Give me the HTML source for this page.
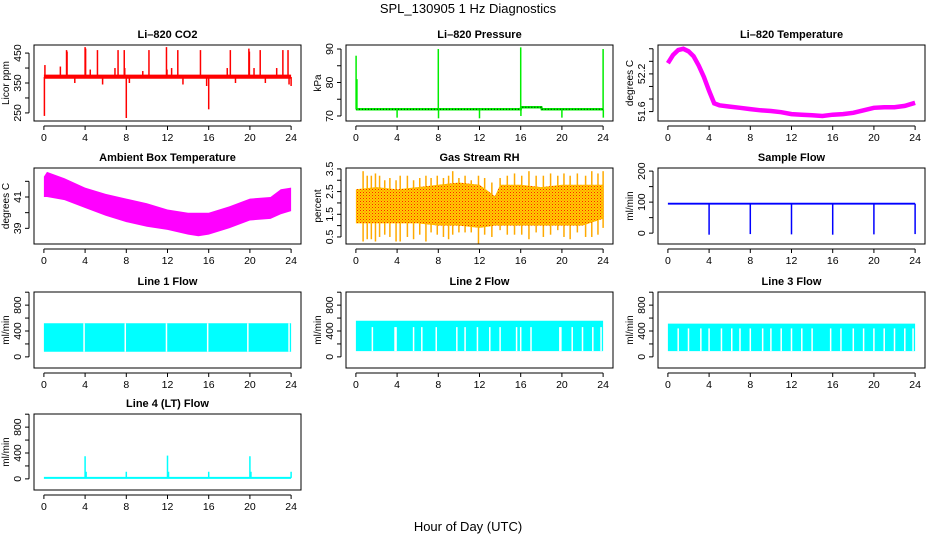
<!DOCTYPE html>
<html><head><meta charset="utf-8">
<style>
html,body{margin:0;padding:0;background:#fff;}
svg{display:block;font-family:"Liberation Sans",Arial,sans-serif;}
</style></head>
<body>
<svg id="fig" width="936" height="540" viewBox="0 0 936 540" xmlns="http://www.w3.org/2000/svg">
<defs>
<pattern id="rhdots" width="3" height="3" patternUnits="userSpaceOnUse">
<rect width="3" height="3" fill="#ffcc00"/><rect x="0" y="0" width="1" height="1" fill="#ff2000"/><rect x="1.5" y="1.5" width="1" height="1" fill="#ff6000"/>
</pattern>
</defs>
<text x="468" y="13" text-anchor="middle" font-size="13">SPL_130905  1 Hz Diagnostics</text>
<text x="468" y="531" text-anchor="middle" font-size="13">Hour of Day (UTC)</text>
</svg>
<script>
// ---- data ----
const xTicks = [0,4,8,12,16,20,24];
// CO2
const co2BaseLo = 364, co2BaseHi = 378;
const co2SpikeHours = [0.05,0.1,1.6,2.2,2.25,3.0,4.0,4.05,4.5,5.2,5.7,6.9,7.2,7.8,7.85,8.0,8.3,9.6,10.2,11.9,11.95,12.4,13.0,13.5,15.2,15.8,16.0,17.8,18.1,18.6,19.9,19.95,20.4,21.0,21.5,22.6,23.2,23.7,23.8,24.0];
const co2SpikeVals  = [240,410,405,460,455,350,470,465,395,460,345,400,460,460,400,233,350,390,460,470,395,400,460,345,460,340,262,400,460,350,465,455,400,460,350,400,460,460,345,340];
// Pressure
const presBaseHours = [0,16,16.05,18,18.05,24];
const presBaseVals  = [72,72,72.6,72.6,72,72];
const presSpikeHours = [0.02,0.1,4,8,8.02,12,16,16.02,20,24,24.02];
const presSpikeVals  = [88,81,69.5,90,69.3,69.3,90.5,70,69.5,90,69.5];
// Li-820 temperature
const tempHours = [0,0.5,1,1.5,2,2.5,3,3.5,4,4.5,5,6,7,8,9,10,11,12,13,14,15,16,17,18,19,20,21,22,23,24];
const tempVals  = [52.37,52.5,52.58,52.6,52.56,52.48,52.33,52.15,51.93,51.73,51.7,51.68,51.66,51.64,51.62,51.61,51.59,51.56,51.55,51.54,51.53,51.55,51.56,51.58,51.62,51.66,51.67,51.67,51.69,51.74];
// Ambient box temperature band
const ambHours = [0,0.3,2,4,6,8,10,12,14,15,16,18,20,22,23,24];
const ambHi    = [42.3,42.6,42.2,41.6,41.2,40.9,40.6,40.2,40.0,40.0,40.0,40.4,40.9,41.0,41.5,41.6];
const ambLo    = [41.0,41.0,40.8,40.3,39.8,39.4,39.1,38.9,38.6,38.5,38.6,39.0,39.5,39.6,39.9,40.1];
// Gas stream RH band + spikes
const rhHours = [0,2,4,6,8,10,12,13.5,14,16,18,20,22,24];
const rhHi = [2.6,2.7,2.6,2.7,2.8,2.9,2.8,2.3,2.8,2.8,2.7,2.8,2.8,2.8];
const rhLo = [1.1,1.1,1.1,1.1,1.0,1.0,0.9,1.0,1.0,1.0,1.0,1.0,1.0,1.3];
const rhSpikeHours = [0.7,1.1,1.5,1.9,2.3,2.8,3.3,3.9,4.3,5.0,5.6,6.2,6.8,7.3,7.9,8.5,9.0,9.4,10.0,10.6,11.2,11.9,12.5,13.2,14.0,14.7,15.4,16.1,16.8,17.5,18.2,18.9,19.6,20.2,20.8,21.5,22.3,22.9,23.5,24.0];
const rhSpikeHi = [3.4,3.2,3.2,3.3,3.2,3.0,3.1,3.0,3.2,3.2,3.0,3.1,3.2,3.1,3.2,3.1,3.2,3.4,3.1,3.2,3.0,3.2,3.1,2.9,3.1,3.2,3.3,3.2,3.4,3.2,3.2,3.3,3.2,3.3,3.2,3.3,3.2,3.4,3.3,3.4];
const rhSpikeLo = [0.3,0.4,0.4,0.3,0.5,0.6,0.5,0.3,0.3,0.5,0.4,0.6,0.3,0.7,0.6,0.5,0.4,0.6,0.7,0.7,0.7,0.2,0.6,0.5,0.8,0.6,0.6,0.6,0.4,0.7,0.5,0.6,0.8,0.5,0.4,0.7,0.5,0.5,0.6,0.9];
// Sample flow
const sfBase = 95;
const sfDipHours = [4,8,12,16,20,24];
const sfDipVals  = [-5,-3,-4,-5,-4,-3];
// Line flows
const l1Lo = 80, l1Hi = 520, l1Gaps = [3.9,7.9,11.9,15.9,19.8,23.8];
const l2Lo = 90, l2Hi = 560, l2Gaps = [1.6,3.8,3.9,5.6,6.4,7.8,9.8,10.6,11.8,13.0,14.0,15.6,16.0,17.0,19.8,19.9,21.0,22.0,23.0,23.8];
const l3Lo = 90, l3Hi = 515, l3Gaps = [1.0,2.0,3.2,4.0,5.2,6.2,7.0,8.0,9.2,10.0,11.0,12.0,13.0,14.0,15.8,16.8,18.0,19.0,20.0,21.0,22.0,23.0,23.8];
const l4Base = 15;
const l4SpikeHours = [4,4.1,8,12,12.1,16,20,20.1,24];
const l4SpikeVals  = [350,110,110,360,110,110,350,110,110];

// ---- layout helpers ----
const NS = "http://www.w3.org/2000/svg";
const fig = document.getElementById('fig');
const colL = [34,346,658], rowT = [45,168,292,414], PW = 267, PH = 76;
function mk(tag, attrs, parent){
  const e = document.createElementNS(NS, tag);
  for (const k in attrs) e.setAttribute(k, attrs[k]);
  (parent||fig).appendChild(e); return e;
}
function panel(col,row,name,title,ylab,ylim,yTicks,yLabels){
  const L = colL[col], T = rowT[row];
  const g = mk('g',{});
  
  
  const xs = h => L + (h + 0.96) / 25.92 * PW;
  const ys = v => T + PH - (v - ylim[0]) / (ylim[1] - ylim[0]) * PH;
  const plot = mk('g',{},g);
  const t = mk('text',{x:L+PW/2,y:T-7,'text-anchor':'middle','font-size':11,'font-weight':'bold'},g);
  t.textContent = title;
  
  
  const box = mk('rect',{x:L,y:T,width:PW,height:PH,fill:'none',stroke:'#000','stroke-width':1},g);
  
  
  const xa = mk('g',{},g);
  
  
  mk('line',{x1:xs(0),x2:xs(24),y1:T+PH+5,y2:T+PH+5,stroke:'#000'},xa);
  xTicks.forEach(h=>{
    mk('line',{x1:xs(h),x2:xs(h),y1:T+PH+5,y2:T+PH+9,stroke:'#000'},xa);
    const tx = mk('text',{x:xs(h),y:T+PH+20,'text-anchor':'middle','font-size':10.5},xa);
    tx.textContent = h;
  });
  const ya = mk('g',{},g);
  
  
  mk('line',{x1:L-5,x2:L-5,y1:ys(yTicks[0]),y2:ys(yTicks[yTicks.length-1]),stroke:'#000'},ya);
  yTicks.forEach(v=>{
    mk('line',{x1:L-5,x2:L-9,y1:ys(v),y2:ys(v),stroke:'#000'},ya);
  });
  yLabels.forEach(v=>{
    const ty = mk('text',{x:0,y:0,'text-anchor':'middle','font-size':10.5,transform:`translate(${L-13},${ys(v)}) rotate(-90)`},ya);
    ty.textContent = v;
  });
  const yt = mk('text',{x:0,y:0,'text-anchor':'middle','font-size':10,transform:`translate(${L-25},${T+PH/2}) rotate(-90)`},g);
  yt.textContent = ylab;
  
  
  return {xs,ys,plot};
}
function pts(hs,vs,p){ return hs.map((h,i)=>p.xs(h).toFixed(1)+','+p.ys(vs[i]).toFixed(1)).join(' '); }
function band(p,hs,hi,lo,fill,name){
  const e = mk('polygon',{points: pts(hs,hi,p)+' '+pts(hs.slice().reverse(),lo.slice().reverse(),p), fill:fill},p.plot);
  
  
  return e;
}
function vlines(p,hs,v0,vs,color,w,name){
  const g = mk('g',{},p.plot);
  
  
  hs.forEach((h,i)=>{
    const v1 = Array.isArray(vs) ? vs[i] : vs;
    const b = Array.isArray(v0) ? v0[i] : v0;
    mk('line',{x1:p.xs(h),x2:p.xs(h),y1:p.ys(b),y2:p.ys(v1),stroke:color,'stroke-width':w},g);
  });
}

// 1 CO2
let p = panel(0,0,'co2','Li\u2013820 CO2','Licor ppm',[223,477],[250,300,350,400,450],[250,350,450]);
band(p,[0,24],[co2BaseHi,co2BaseHi],[co2BaseLo,co2BaseLo],'#ff0000','co2-series');
vlines(p,co2SpikeHours,370,co2SpikeVals,'#ff0000',1.5,'co2-spikes');

// 2 Pressure
p = panel(1,0,'pressure','Li\u2013820 Pressure','kPa',[68.5,91.2],[70,75,80,85,90],[70,80,90]);
let e = mk('polyline',{points:pts(presBaseHours,presBaseVals,p),fill:'none',stroke:'#00ee00','stroke-width':2.5},p.plot);
 
e = mk('polyline',{points:pts(presBaseHours,presBaseVals,p),fill:'none',stroke:'#000','stroke-width':1,'stroke-dasharray':'1,2'},p.plot);
 
vlines(p,presSpikeHours,72,presSpikeVals,'#00ee00',1.5,'pressure-spikes');

// 3 Li-820 Temperature
p = panel(2,0,'li820-temp','Li\u2013820 Temperature','degrees C',[51.45,52.66],[51.6,51.8,52.0,52.2,52.4,52.6],['51.6','52.2']);
e = mk('polyline',{points:pts(tempHours,tempVals,p),fill:'none',stroke:'#ff00ff','stroke-width':4.5},p.plot);
 

// 4 Ambient
p = panel(0,1,'ambient-temp','Ambient Box Temperature','degrees C',[38.0,42.85],[39,40,41,42],[39,41]);
band(p,ambHours,ambHi,ambLo,'#ff00ff','ambient-temp-band');

// 5 RH
p = panel(1,1,'gas-rh','Gas Stream RH','percent',[0.19,3.54],[0.5,1,1.5,2,2.5,3,3.5],['0.5','1.5','2.5','3.5']);
vlines(p,rhSpikeHours,rhSpikeLo,rhSpikeHi,'#ffaa00',1.5,'gas-rh-spikes');
band(p,rhHours,rhHi,rhLo,'url(#rhdots)','gas-rh-band');

// 6 Sample flow
p = panel(2,1,'sample-flow','Sample Flow','ml/min',[-35,210],[0,50,100,150,200],[0,100,200]);
band(p,[0,24],[sfBase+3,sfBase+3],[sfBase-3,sfBase-3],'#0000ff','sample-flow-series');
vlines(p,sfDipHours,sfBase,sfDipVals,'#0000ff',1.5,'sample-flow-dips');

// 7-9 Line flows
const flowTicks=[0,200,400,600,800,1000], flowLabels=[0,400,800];
p = panel(0,2,'line1-flow','Line 1 Flow','ml/min',[-172,1003],flowTicks,flowLabels);
band(p,[0,24],[l1Hi,l1Hi],[l1Lo,l1Lo],'#00ffff','line1-flow-band');
vlines(p,l1Gaps,l1Lo,l1Hi,'#ffffff',1.5,'line1-flow-gaps');
p = panel(1,2,'line2-flow','Line 2 Flow','ml/min',[-172,1003],flowTicks,flowLabels);
band(p,[0,24],[l2Hi,l2Hi],[l2Lo,l2Lo],'#00ffff','line2-flow-band');
vlines(p,l2Gaps,l2Lo,460,'#ffffff',1.5,'line2-flow-gaps');
p = panel(2,2,'line3-flow','Line 3 Flow','ml/min',[-172,1003],flowTicks,flowLabels);
band(p,[0,24],[l3Hi,l3Hi],[l3Lo,l3Lo],'#00ffff','line3-flow-band');
vlines(p,l3Gaps,l3Lo,440,'#ffffff',1.5,'line3-flow-gaps');

// 10 Line 4
p = panel(0,3,'line4-flow','Line 4 (LT) Flow','ml/min',[-172,1003],flowTicks,flowLabels);
band(p,[0,24],[l4Base+15,l4Base+15],[l4Base-15,l4Base-15],'#00ffff','line4-flow-series');
vlines(p,l4SpikeHours,l4Base,l4SpikeVals,'#00ffff',1.5,'line4-flow-spikes');
</script>
</body></html>
